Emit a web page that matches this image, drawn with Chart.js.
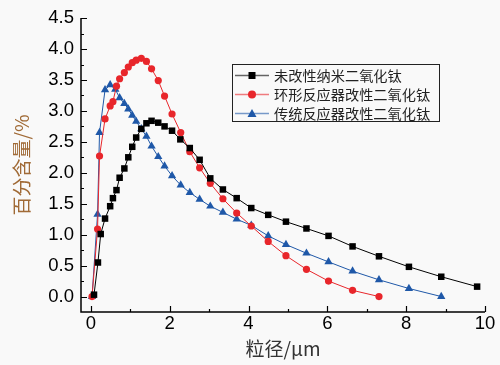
<!DOCTYPE html>
<html>
<head>
<meta charset="utf-8">
<script src="https://cdn.jsdelivr.net/npm/chart.js@4.4.0/dist/chart.umd.min.js"></script>
<style>
  html, body { margin: 0; padding: 0; background: #f9f9f9; }
  #wrap { position: relative; width: 500px; height: 365px; }
  #legend {
    position: absolute; left: 232px; top: 64px; width: 206px; height: 55px;
    border: 1.5px solid #222; padding-top: 1px; box-sizing: content-box;
    font-family: "Noto Sans CJK SC", sans-serif; font-size: 14.2px; color: #222;
  }
  .row { height: 19px; display: flex; align-items: center; }
  .row svg { flex: none; }
  .row span { margin-left: 4px; line-height: 19px; white-space: nowrap; }
</style>
</head>
<body>
<div id="wrap">
  <canvas id="chart" width="500" height="365"></canvas>
  <div id="legend"></div>
</div>
<script>
// particle size bins (um) and percentages
const seriesNames = ['未改性纳米二氧化钛', '环形反应器改性二氧化钛', '传统反应器改性二氧化钛'];

const plainX = [0.08, 0.18, 0.25, 0.36, 0.49, 0.56, 0.65, 0.73, 0.85, 0.95, 1.05, 1.15, 1.28, 1.41, 1.54, 1.71, 1.87, 2.06, 2.27, 2.51, 2.76, 3.03, 3.35, 3.70, 4.07, 4.50, 4.95, 5.47, 6.03, 6.64, 7.31, 8.07, 8.89, 9.80];
const plainY = [0.03, 0.55, 1.01, 1.26, 1.46, 1.59, 1.72, 1.92, 2.07, 2.25, 2.42, 2.57, 2.71, 2.80, 2.84, 2.81, 2.75, 2.68, 2.54, 2.40, 2.21, 1.91, 1.73, 1.59, 1.43, 1.32, 1.21, 1.10, 0.98, 0.81, 0.65, 0.48, 0.32, 0.16];

const ringX = [0.03, 0.17, 0.22, 0.36, 0.49, 0.56, 0.65, 0.73, 0.85, 0.95, 1.05, 1.15, 1.28, 1.41, 1.54, 1.71, 1.87, 2.06, 2.28, 2.51, 2.76, 3.03, 3.35, 3.70, 4.07, 4.50, 4.95, 5.47, 6.03, 6.64, 7.31];
const ringY = [0.00, 1.09, 2.27, 2.87, 3.08, 3.15, 3.40, 3.52, 3.62, 3.71, 3.78, 3.82, 3.85, 3.80, 3.68, 3.49, 3.24, 2.95, 2.65, 2.34, 2.08, 1.83, 1.58, 1.35, 1.14, 0.89, 0.66, 0.44, 0.25, 0.10, 0.00];

const tradX = [0.03, 0.17, 0.22, 0.36, 0.49, 0.62, 0.73, 0.85, 0.95, 1.05, 1.15, 1.28, 1.41, 1.54, 1.71, 1.87, 2.06, 2.28, 2.51, 2.76, 3.03, 3.35, 3.70, 4.07, 4.50, 4.95, 5.47, 6.03, 6.64, 7.31, 8.07, 8.89];
const tradY = [0.00, 1.33, 2.65, 3.34, 3.42, 3.35, 3.21, 3.12, 3.03, 2.93, 2.83, 2.71, 2.59, 2.43, 2.26, 2.11, 1.95, 1.80, 1.68, 1.57, 1.46, 1.36, 1.25, 1.15, 0.98, 0.84, 0.70, 0.56, 0.41, 0.27, 0.13, 0.00];

const xTicks = [0, 2, 4, 6, 8, 10];
const yTicks = [0, 0.5, 1, 1.5, 2, 2.5, 3, 3.5, 4, 4.5];

const pts = (xs, ys) => xs.map((x, i) => ({ x: x, y: ys[i] }));

const styles = [
  { color: '#000000', point: 'rect', radius: 4.6 },
  { color: '#e8262b', point: 'circle', radius: 3.6 },
  { color: '#1f58a8', point: 'triangle', radius: 4.8 }
];
const seriesData = [pts(plainX, plainY), pts(ringX, ringY), pts(tradX, tradY)];

// inward major/minor ticks and axis lines
const inwardTicks = {
  id: 'inwardTicks',
  afterDraw(chart) {
    const { ctx, scales: { x, y }, chartArea: a } = chart;
    ctx.save();
    ctx.strokeStyle = '#000';
    ctx.lineWidth = 1.5;
    ctx.beginPath();
    ctx.moveTo(a.left, a.top);
    ctx.lineTo(a.left, a.bottom);
    ctx.lineTo(a.right, a.bottom);
    ctx.stroke();
    ctx.lineWidth = 1.2;
    ctx.beginPath();
    yTicks.forEach((v, i) => {
      const py = Math.round(y.getPixelForValue(v)) + 0.5;
      ctx.moveTo(a.left, py); ctx.lineTo(a.left + 6, py);
      if (i < yTicks.length - 1) {
        const pm = Math.round(y.getPixelForValue((v + yTicks[i + 1]) / 2)) + 0.5;
        ctx.moveTo(a.left, pm); ctx.lineTo(a.left + 3, pm);
      }
    });
    xTicks.forEach((v, i) => {
      const px = Math.round(x.getPixelForValue(v)) + 0.5;
      ctx.moveTo(px, a.bottom); ctx.lineTo(px, a.bottom - 6);
      if (i < xTicks.length - 1) {
        const pm = Math.round(x.getPixelForValue((v + xTicks[i + 1]) / 2)) + 0.5;
        ctx.moveTo(pm, a.bottom); ctx.lineTo(pm, a.bottom - 3);
      }
    });
    ctx.stroke();
    ctx.restore();
  }
};

const chart = new Chart(document.getElementById('chart'), {
  type: 'scatter',
  data: {
    datasets: seriesData.map((d, i) => ({
      label: seriesNames[i],
      data: d,
      showLine: true,
      borderColor: styles[i].color,
      backgroundColor: styles[i].color,
      borderWidth: 1,
      pointStyle: styles[i].point,
      pointRadius: styles[i].radius,
      pointBorderWidth: 0,
      tension: 0
    }))
  },
  options: {
    responsive: false,
    animation: false,
    clip: false,
    layout: { padding: { left: 0, right: 15, top: 14, bottom: 0 } },
    plugins: { legend: { display: false }, tooltip: { enabled: false } },
    scales: {
      x: {
        type: 'linear', min: -0.25, max: 10,
        grid: { display: false, drawTicks: false },
        border: { display: false },
        afterBuildTicks: s => { s.ticks = xTicks.map(v => ({ value: v })); },
        afterFit: s => { s.height = 53; },
        ticks: { padding: 1, color: '#000', font: { family: '"Liberation Sans", Arial', size: 18.5 } },
        title: { display: true, text: '粒径/μm', color: '#333', padding: { top: 0, bottom: 5 },
                 font: { family: '"Noto Sans CJK SC"', size: 19 } }
      },
      y: {
        type: 'linear', min: -0.25, max: 4.5,
        grid: { display: false, drawTicks: false },
        border: { display: false },
        afterBuildTicks: s => { s.ticks = yTicks.map(v => ({ value: v })); },
        afterFit: s => { s.width = 81; },
        ticks: { padding: 7, color: '#000', callback: v => v.toFixed(1),
                 font: { family: '"Liberation Sans", Arial', size: 18.5 } },
        title: { display: true, text: '百分含量/%', color: '#a06a36', padding: { top: 10, bottom: 0 },
                 font: { family: '"Noto Sans CJK SC"', size: 19 } }
      }
    }
  },
  plugins: [inwardTicks]
});

// legend box drawn from the dataset styles
const legend = document.getElementById('legend');
chart.data.datasets.forEach((ds, i) => {
  const c = styles[i].color;
  let mark;
  if (styles[i].point === 'rect') mark = `<rect x="15.5" y="5" width="7" height="7" fill="${c}"/>`;
  else if (styles[i].point === 'circle') mark = `<circle cx="19" cy="8.5" r="4" fill="${c}"/>`;
  else mark = `<polygon points="19,4 23.5,12 14.5,12" fill="${c}"/>`;
  const row = document.createElement('div');
  row.className = 'row';
  row.innerHTML = `<svg width="37" height="17"><line x1="2" y1="8.5" x2="36" y2="8.5" stroke="${c}" stroke-opacity="0.6" stroke-width="1.5"/>${mark}</svg><span>${ds.label}</span>`;
  legend.appendChild(row);
});
</script>
</body>
</html>
